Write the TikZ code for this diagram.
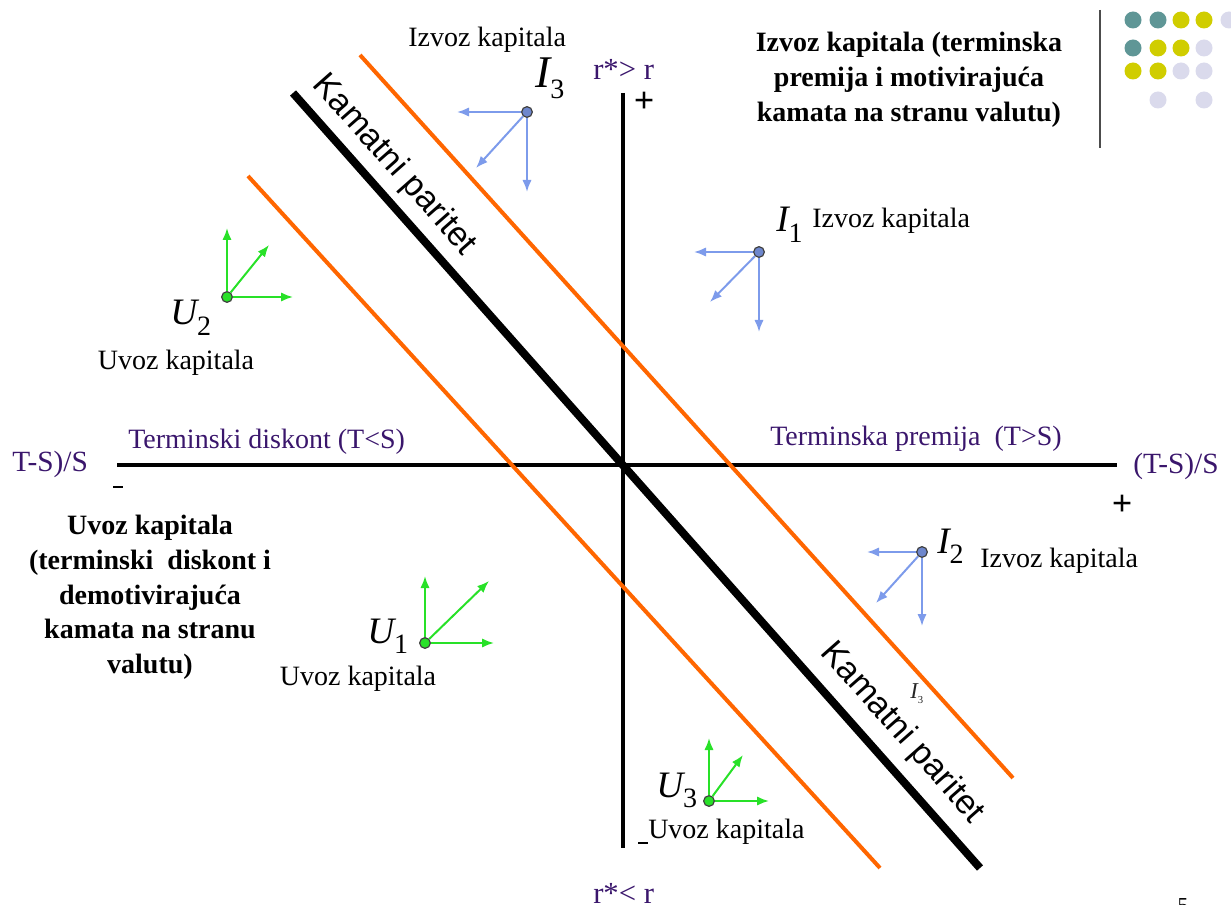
\documentclass[tikz,border=0pt]{standalone}
\usepackage{fontspec}
\setmainfont{Liberation Serif}
\newfontfamily\arialf{Liberation Sans}
\usetikzlibrary{arrows.meta}
\definecolor{purp}{RGB}{58,22,108}
\definecolor{orng}{RGB}{255,102,0}
\definecolor{bluev}{RGB}{125,155,235}
\definecolor{bluedot}{RGB}{110,135,205}
\definecolor{greenv}{RGB}{40,225,40}
\definecolor{dteal}{RGB}{95,150,150}
\definecolor{yell}{RGB}{208,205,0}
\definecolor{lav}{RGB}{218,218,236}
\newcommand\vlab[3]{{\fontsize{#3}{#3}\selectfont\itshape #1}{\fontsize{21}{21}\selectfont\raisebox{-8pt}{#2}}}
\begin{document}
\begin{tikzpicture}[x=0.75pt,y=-0.75pt,
  txt/.style={font=\fontsize{21}{25}\selectfont, inner sep=0pt},
  ptxt/.style={font=\fontsize{22}{25}\selectfont, inner sep=0pt, text=purp},
  btxt/.style={font=\bfseries\fontsize{21}{26}\selectfont, align=center, inner sep=0pt},
  sgn/.style={font=\bfseries\fontsize{27}{27}\selectfont, inner sep=0pt},
  axisline/.style={line width=3pt},
  orl/.style={orng, line width=3pt},
  kp/.style={line width=6pt},
  kptxt/.style={font=\arialf\fontsize{25.5}{25}\selectfont, rotate=-48.5, inner sep=0pt},
  bdot/.style={circle, draw=black!75, fill=bluedot, minimum size=8pt, inner sep=0pt, line width=0.9pt},
  gdot/.style={circle, draw=black!75, fill=greenv, minimum size=8pt, inner sep=0pt, line width=0.9pt},
  barr/.style={bluev, line width=1.5pt, -{Latex[length=9pt,width=7pt]}},
  garr/.style={greenv, line width=1.5pt, -{Latex[length=9pt,width=7pt]}},
  deco/.style={circle, minimum size=12.75pt, inner sep=0pt},
  dashmark/.style={fill=black, minimum width=7pt, minimum height=2.2pt, inner sep=0pt}
]
\useasboundingbox (0,0) rectangle (1231,905);

% axes
\coordinate (xl) at (117,465); \coordinate (xr) at (1117,465);
\coordinate (yt) at (623,93); \coordinate (yb) at (623,848);
\draw[axisline] (xl) -- (xr);
\draw[axisline] (yt) -- (yb);

% parity line and bands
\coordinate (kpa) at (293,93); \coordinate (kpb) at (980,868);
\coordinate (oua) at (360,55); \coordinate (oub) at (1013,778);
\coordinate (ola) at (248,176); \coordinate (olb) at (880,868);
\draw[orl] (oua) -- (oub);
\draw[orl] (ola) -- (olb);
\draw[kp] (kpa) -- (kpb);
\node[kptxt] (kp1) at (394,165) {Kamatni paritet};
\node[kptxt] (kp2) at (902,733) {Kamatni paritet};

% axis labels
\node[ptxt, font=\fontsize{23}{25}\selectfont, anchor=base west] (rgt) at (593,80) {r*> r};
\node[ptxt, font=\fontsize{23}{25}\selectfont, anchor=base west] (rlt) at (593,903) {r*< r};
\node[ptxt, anchor=base west] (tsl) at (12,471) {T-S)/S};
\node[ptxt, anchor=base west] (tsr) at (1133,473) {(T-S)/S};
\node[ptxt, font=\fontsize{21}{25}\selectfont, anchor=base west] (tdisk) at (128,448) {Terminski diskont (T<S)};
\node[ptxt, font=\fontsize{21}{25}\selectfont, anchor=base west] (tprem) at (770,445) {Terminska premija \ (T>S)};
\node[sgn] (plt) at (644,102) {+};
\node[sgn] (plr) at (1122,505) {+};
\node[dashmark] (mnl) at (118,487) {};
\node[dashmark] (mnb) at (643,843) {};

% bold explanations
\node[btxt, anchor=north] (exptop) at (909,32) {Izvoz kapitala (terminska\\premija i motivirajuća\\kamata na stranu valutu)};
\node[btxt, anchor=north] (expleft) at (150,515) {Uvoz kapitala\\(terminski \ diskont i\\demotivirajuća\\kamata na stranu\\valutu)};

% I3
\node[bdot] (i3) at (527,112) {};
\coordinate (i3l) at (457,112); \coordinate (i3d) at (476,168); \coordinate (i3b) at (527,192);
\draw[barr] (i3) -- (i3l); \draw[barr] (i3) -- (i3d); \draw[barr] (i3) -- (i3b);
\node[inner sep=0pt, anchor=base west] (i3lab) at (535,88) {\vlab{I}{3}{34}};
\node[txt, anchor=base west] (i3txt) at (408,47) {Izvoz kapitala};

% I1
\node[bdot] (i1) at (759,252) {};
\coordinate (i1l) at (694,252); \coordinate (i1d) at (710,302); \coordinate (i1b) at (759,332);
\draw[barr] (i1) -- (i1l); \draw[barr] (i1) -- (i1d); \draw[barr] (i1) -- (i1b);
\node[inner sep=0pt, anchor=base west] (i1lab) at (776,232) {\vlab{I}{1}{28}};
\node[txt, anchor=base west] (i1txt) at (812,228) {Izvoz kapitala};

% I2
\node[bdot] (i2) at (922,552) {};
\coordinate (i2l) at (867,552); \coordinate (i2d) at (876,603); \coordinate (i2b) at (922,626);
\draw[barr] (i2) -- (i2l); \draw[barr] (i2) -- (i2d); \draw[barr] (i2) -- (i2b);
\node[inner sep=0pt, anchor=base west] (i2lab) at (937,553) {\vlab{I}{2}{28}};
\node[txt, anchor=base west] (i2txt) at (980,567) {Izvoz kapitala};

% small I3 on band
\node[inner sep=0pt, anchor=base west, text=black!85] (i3s) at (910,698) {{\fontsize{17}{17}\selectfont\itshape I}{\fontsize{8}{8}\selectfont\raisebox{-4pt}{3}}};

% U2
\node[gdot] (u2) at (227,297) {};
\coordinate (u2u) at (227,228); \coordinate (u2d) at (269,245); \coordinate (u2r) at (293,297);
\draw[garr] (u2) -- (u2u); \draw[garr] (u2) -- (u2d); \draw[garr] (u2) -- (u2r);
\node[inner sep=0pt, anchor=base west] (u2lab) at (170,325) {\vlab{U}{2}{28}};
\node[txt, anchor=base] (u2txt) at (176,370) {Uvoz kapitala};

% U1
\node[gdot] (u1) at (425,643) {};
\coordinate (u1u) at (425,576); \coordinate (u1d) at (489,581); \coordinate (u1r) at (494,643);
\draw[garr] (u1) -- (u1u); \draw[garr] (u1) -- (u1d); \draw[garr] (u1) -- (u1r);
\node[inner sep=0pt, anchor=base west] (u1lab) at (367,643) {\vlab{U}{1}{28}};
\node[txt, anchor=base] (u1txt) at (358,685) {Uvoz kapitala};

% U3
\node[gdot] (u3) at (709,801) {};
\coordinate (u3u) at (709,738); \coordinate (u3d) at (743,755); \coordinate (u3r) at (769,801);
\draw[garr] (u3) -- (u3u); \draw[garr] (u3) -- (u3d); \draw[garr] (u3) -- (u3r);
\node[inner sep=0pt, anchor=base west] (u3lab) at (656,797) {\vlab{U}{3}{28}};
\node[txt, anchor=base west] (u3txt) at (648,838) {Uvoz kapitala};

% decoration top right
\coordinate (vlt) at (1100,10); \coordinate (vlb) at (1100,148);
\draw[black!70, line width=2pt] (vlt) -- (vlb);
\node[deco, fill=dteal] (d11) at (1133,20) {};
\node[deco, fill=dteal] (d12) at (1158,20) {};
\node[deco, fill=yell] (d13) at (1181,20) {};
\node[deco, fill=yell] (d14) at (1204,20) {};
\node[deco, fill=lav] (d15) at (1229,20) {};
\node[deco, fill=dteal] (d21) at (1133,48) {};
\node[deco, fill=yell] (d22) at (1158,48) {};
\node[deco, fill=yell] (d23) at (1181,48) {};
\node[deco, fill=lav] (d24) at (1204,48) {};
\node[deco, fill=yell] (d31) at (1133,71) {};
\node[deco, fill=yell] (d32) at (1158,71) {};
\node[deco, fill=lav] (d33) at (1181,71) {};
\node[deco, fill=lav] (d34) at (1204,71) {};
\node[deco, fill=lav] (d42) at (1158,100) {};
\node[deco, fill=lav] (d44) at (1204,100) {};

% page number
\node[inner sep=0pt, anchor=base, font=\fontsize{16}{16}\selectfont] (pg) at (1183,912) {5};
\end{tikzpicture}
\end{document}
